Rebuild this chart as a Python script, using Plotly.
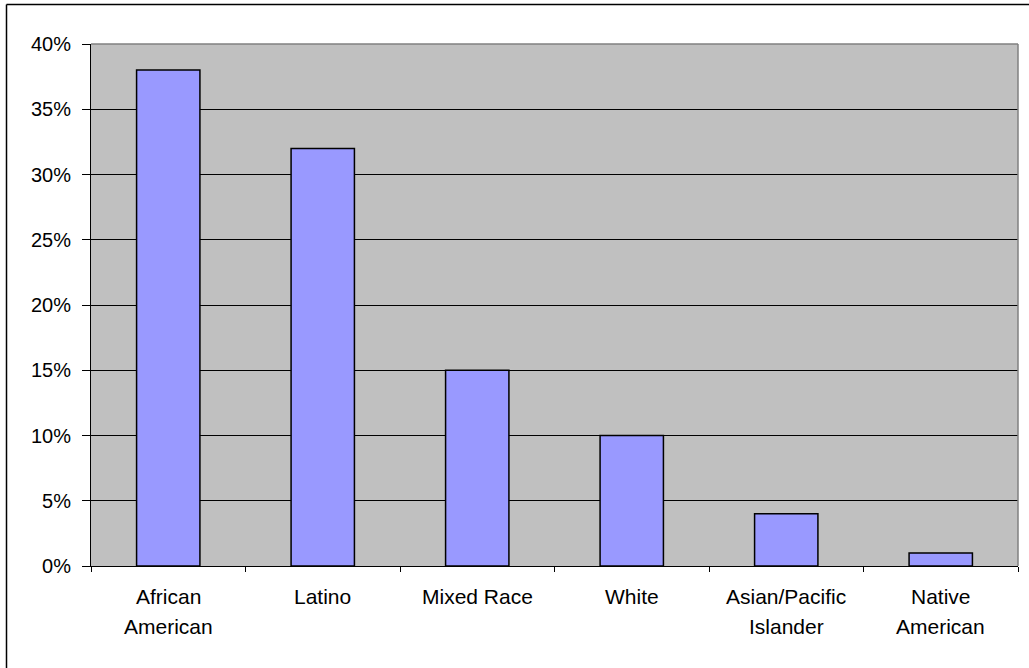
import plotly.graph_objects as go

categories = ["African American", "Latino", "Mixed Race", "White", "Asian/Pacific Islander", "Native American"]
label_line1 = ["African", "Latino", "Mixed Race", "White", "Asian/Pacific", "Native"]
label_line2 = ["American", "", "", "", "Islander", "American"]
values = [0.38, 0.32, 0.15, 0.10, 0.04, 0.01]
y_ticks = [0, 0.05, 0.10, 0.15, 0.20, 0.25, 0.30, 0.35, 0.40]
y_tick_labels = ["0%", "5%", "10%", "15%", "20%", "25%", "30%", "35%", "40%"]

W, H = 1029, 668
ml, mr, mt, mb = 91, 11, 44, 101.5
pw = W - ml - mr
ph = H - mt - mb

FONT = "Liberation Sans, Arial, sans-serif"
XFONT = dict(family=FONT, size=21, color="black")

fig = go.Figure()
fig.add_trace(go.Bar(
    x=categories, y=values,
    marker=dict(color="#9999FF", line=dict(color="black", width=1.5)),
    width=0.41,
))

annotations = []
for cat, l1, l2 in zip(categories, label_line1, label_line2):
    annotations.append(dict(x=cat, y=0, xref="x", yref="paper", text=l1, showarrow=False,
                            yanchor="middle", yshift=-30.5, font=XFONT))
    if l2:
        annotations.append(dict(x=cat, y=0, xref="x", yref="paper", text=l2, showarrow=False,
                                yanchor="middle", yshift=-60, font=XFONT))

shapes = [
    # plot area border (top/right gray)
    dict(type="line", xref="paper", yref="paper", x0=0, x1=1, y0=1, y1=1, line=dict(color="#808080", width=1.5)),
    dict(type="line", xref="paper", yref="paper", x0=1, x1=1, y0=0, y1=1, line=dict(color="#808080", width=1.5)),
    # outer chart frame (left and top)
    dict(type="line", xref="paper", yref="paper",
         x0=(6.5 - ml) / pw, x1=(6.5 - ml) / pw, y0=1 + (mt - 4.5) / ph, y1=-(mb + 5) / ph,
         line=dict(color="black", width=1.5)),
    dict(type="line", xref="paper", yref="paper",
         x0=(6.5 - ml) / pw, x1=1 + (mr + 5) / pw, y0=1 + (mt - 4.5) / ph, y1=1 + (mt - 4.5) / ph,
         line=dict(color="black", width=1.5)),
]

fig.update_layout(
    width=W, height=H,
    margin=dict(l=ml, r=mr, t=mt, b=mb),
    paper_bgcolor="white",
    plot_bgcolor="#C0C0C0",
    showlegend=False,
    bargap=0.59,
    font=dict(family=FONT, size=20, color="black"),
    annotations=annotations,
    shapes=shapes,
)
fig.update_xaxes(
    showticklabels=False,
    showline=True, linecolor="black", linewidth=1,
    ticks="outside", ticklen=5, tickcolor="black", tickson="boundaries",
    showgrid=False,
)
fig.update_yaxes(
    range=[0, 0.40],
    tickvals=y_ticks, ticktext=y_tick_labels,
    showline=True, linecolor="black", linewidth=1,
    ticks="outside", ticklen=8, tickcolor="black",
    ticklabelstandoff=7,
    showgrid=True, gridcolor="black", gridwidth=1,
    zeroline=False,
    tickfont=dict(family=FONT, size=20, color="black"),
)

fig.write_html("out.html")
